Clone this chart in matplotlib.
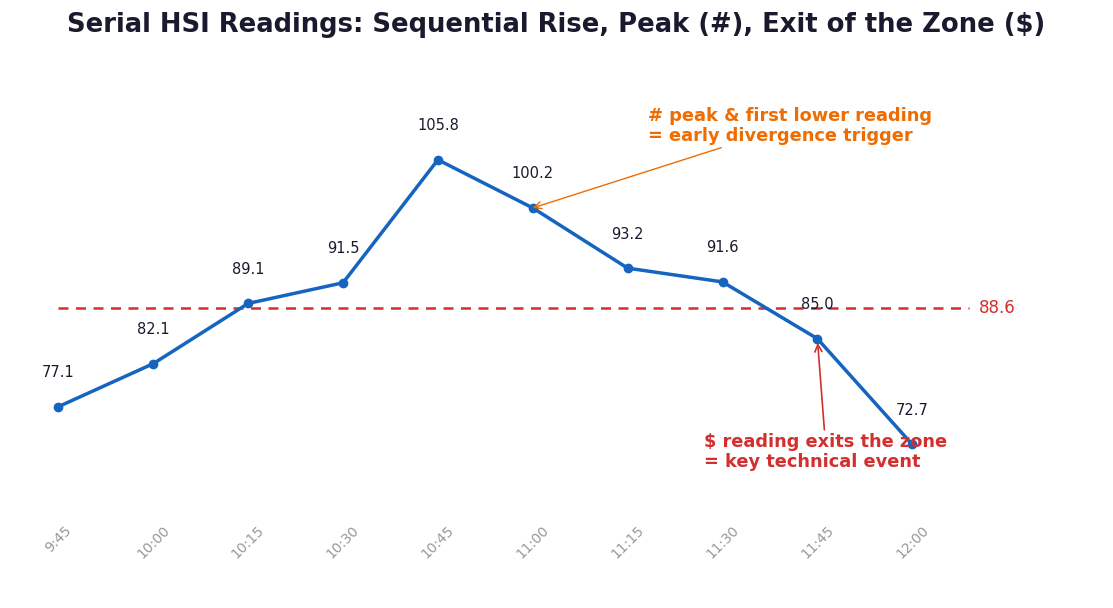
import matplotlib
matplotlib.use("Agg")
import matplotlib.pyplot as plt

# data
times = ["9:45", "10:00", "10:15", "10:30", "10:45", "11:00",
         "11:15", "11:30", "11:45", "12:00"]
hsi = [77.1, 82.1, 89.1, 91.5, 105.8, 100.2, 93.2, 91.6, 85.0, 72.7]
zone_level = 88.6

peak_idx = 5   # first lower reading after the peak
exit_idx = 8   # reading that exits the zone

line_color = "#1565c0"
red = "#d32f2f"
orange = "#ef6c00"

fig = plt.figure(figsize=(11.13, 6.08), dpi=100)
ax = fig.add_axes([30 / 1113, 93 / 608, 1053 / 1113, 455 / 608])

x = list(range(len(times)))
ax.plot(x, hsi, color=line_color, linewidth=2.5, marker="o", markersize=6, zorder=3)

# value labels above each point
for xi, v in zip(x, hsi):
    ax.annotate(f"{v:.1f}", (xi, v), xytext=(0, 24.5), textcoords="offset points",
                ha="center", va="center", fontsize=10.5, color="#1a1a2e")

# zone level
ax.hlines(zone_level, 0, 9.6, colors=red, linestyles=(0, (4, 3)), linewidth=1.8, zorder=2)
ax.text(9.7, zone_level, f"{zone_level}", color=red, fontsize=12, va="center", ha="left")

# annotations
ax.annotate("# peak & first lower reading\n= early divergence trigger",
            xy=(peak_idx, hsi[peak_idx]), xytext=(6.21, 109.75),
            ha="left", va="center", fontsize=12.8, fontweight="bold", color=orange,
            linespacing=1.15,
            arrowprops=dict(arrowstyle="->", color=orange, lw=1.0, shrinkA=0, shrinkB=0))
ax.annotate("$ reading exits the zone\n= key technical event",
            xy=(exit_idx, hsi[exit_idx]), xytext=(6.81, 71.87),
            ha="left", va="center", fontsize=12.8, fontweight="bold", color=red,
            linespacing=1.15,
            arrowprops=dict(arrowstyle="->", color=red, lw=1.2, shrinkA=0, shrinkB=3))

ax.set_xlim(-0.3, 10.8)
ax.set_ylim(64.5, 117.4)
ax.set_xticks(x)
ax.set_xticklabels(times, rotation=45, color="#999999", fontsize=10)
ax.tick_params(axis="x", length=0, pad=6)
ax.set_yticks([])
for s in ax.spines.values():
    s.set_visible(False)

fig.suptitle("Serial HSI Readings: Sequential Rise, Peak (#), Exit of the Zone ($)",
             x=0.5, y=0.98, fontsize=18.6, fontweight="bold", color="#1a1a2e")

fig.savefig("out.png", dpi=100)
